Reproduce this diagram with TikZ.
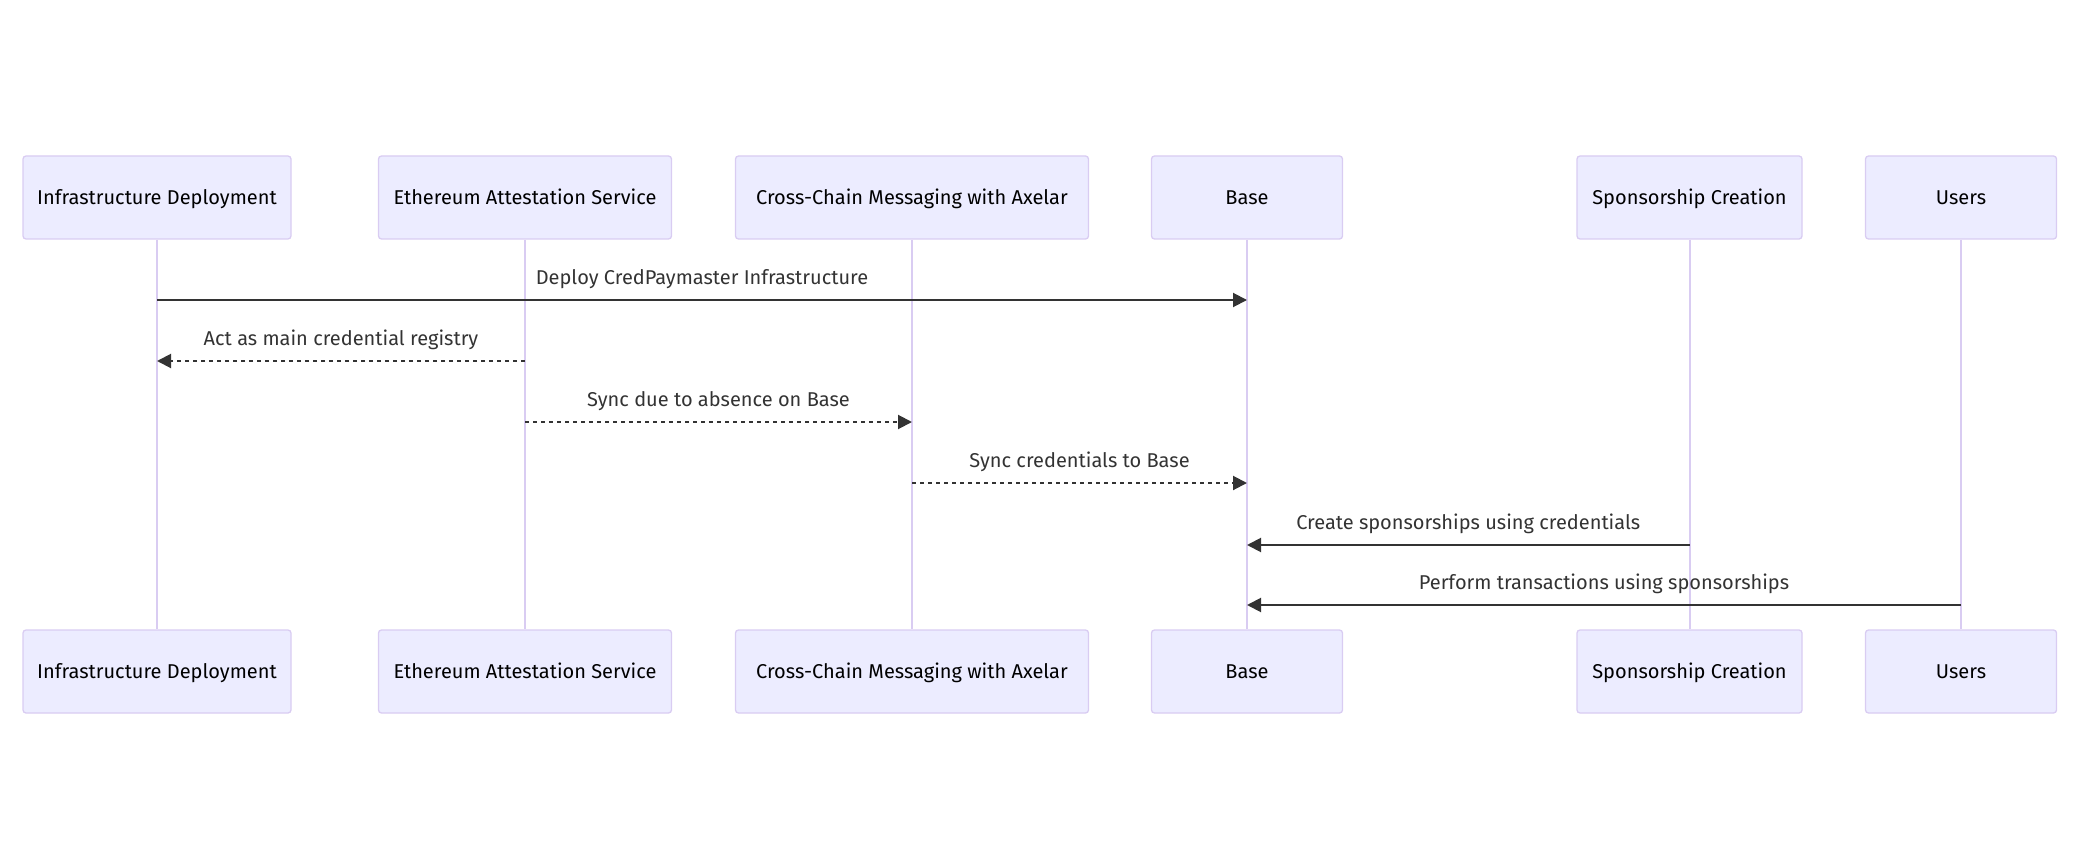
\documentclass[tikz,border=0pt]{standalone}
\usepackage{fontspec}
\setmainfont{Fira Sans}
\usetikzlibrary{arrows.meta}
\definecolor{actorfill}{HTML}{ECECFF}
\definecolor{actorline}{HTML}{D9CCF2}
\definecolor{msgcol}{HTML}{333333}
\begin{document}
\begin{tikzpicture}[x=1pt,y=-1pt,
        actor/.style={draw=actorline, line width=1.3pt, fill=actorfill, rounded corners=3pt,
            minimum height=83pt, inner sep=0pt, text height=14pt, text depth=0pt,
            font=\fontsize{20}{24}\selectfont},
        life/.style={draw=actorline, line width=2pt},
        msg/.style={draw=msgcol, line width=2pt, -{Triangle[length=14pt,width=14pt]}},
        reply/.style={msg, dash pattern=on 4pt off 4pt},
        lbl/.style={midway, anchor=base, yshift=16pt, text=msgcol, inner sep=0pt,
            font=\fontsize{20}{24}\selectfont}]
        \useasboundingbox (0,0) rectangle (2083,845);
        % participants, top row
        \node[actor, minimum width=268pt] (infraT) at (157,197.5) {Infrastructure Deployment};
        \node[actor, minimum width=293pt] (easT) at (525,197.5) {Ethereum Attestation Service};
        \node[actor, minimum width=353pt] (axelarT) at (912,197.5) {Cross-Chain Messaging with Axelar};
        \node[actor, minimum width=191pt] (baseT) at (1247,197.5) {Base};
        \node[actor, minimum width=225pt] (sponsT) at (1689.5,197.5) {Sponsorship Creation};
        \node[actor, minimum width=191pt] (usersT) at (1961,197.5) {Users};
        % participants, bottom row
        \node[actor, minimum width=268pt] (infraB) at (157,671.5) {Infrastructure Deployment};
        \node[actor, minimum width=293pt] (easB) at (525,671.5) {Ethereum Attestation Service};
        \node[actor, minimum width=353pt] (axelarB) at (912,671.5) {Cross-Chain Messaging with Axelar};
        \node[actor, minimum width=191pt] (baseB) at (1247,671.5) {Base};
        \node[actor, minimum width=225pt] (sponsB) at (1689.5,671.5) {Sponsorship Creation};
        \node[actor, minimum width=191pt] (usersB) at (1961,671.5) {Users};
        % lifelines
        \draw[life] (infraT.south) -- (infraB.north);
        \draw[life] (easT.south) -- (easB.north);
        \draw[life] (axelarT.south) -- (axelarB.north);
        \draw[life] (baseT.south) -- (baseB.north);
        \draw[life] (sponsT.south) -- (sponsB.north);
        \draw[life] (usersT.south) -- (usersB.north);
        % message rows
        \coordinate (m1) at (0,300);
        \coordinate (m2) at (0,361);
        \coordinate (m3) at (0,422);
        \coordinate (m4) at (0,483);
        \coordinate (m5) at (0,545);
        \coordinate (m6) at (0,605);
        \draw[msg] (infraT |- m1) -- node[lbl] {Deploy CredPaymaster Infrastructure} (baseT |- m1);
        \draw[reply] (easT |- m2) -- node[lbl] {Act as main credential registry} (infraT |- m2);
        \draw[reply] (easT |- m3) -- node[lbl] {Sync due to absence on Base} (axelarT |- m3);
        \draw[reply] (axelarT |- m4) -- node[lbl] {Sync credentials to Base} (baseT |- m4);
        \draw[msg] (sponsT |- m5) -- node[lbl] {Create sponsorships using credentials} (baseT |- m5);
        \draw[msg] (usersT |- m6) -- node[lbl] {Perform transactions using sponsorships} (baseT |- m6);
\end{tikzpicture}
\end{document}
